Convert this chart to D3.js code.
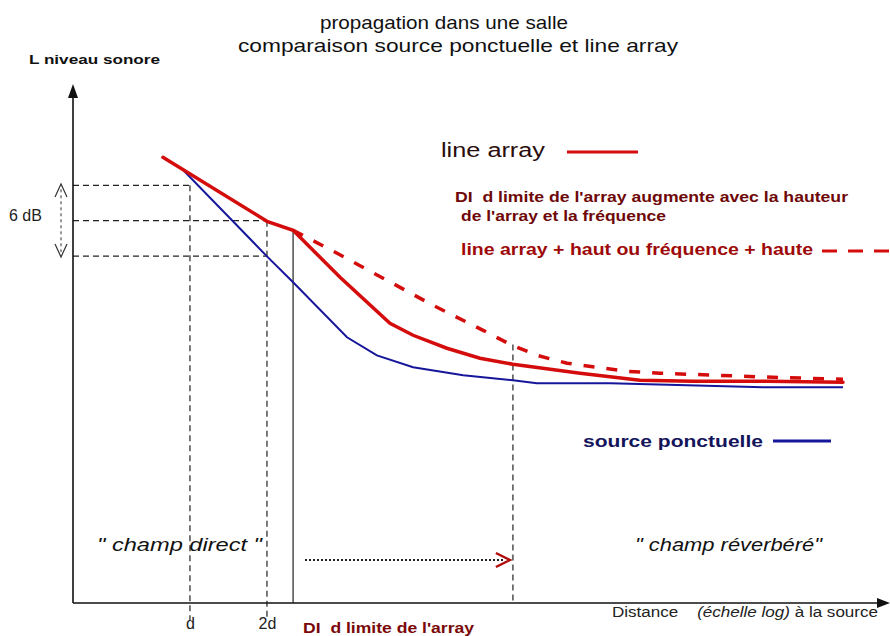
<!DOCTYPE html>
<html>
<head>
<meta charset="utf-8">
<script src="https://cdn.jsdelivr.net/npm/d3@7"></script>
<style>
  body { margin: 0; background: #fff; }
  svg { display: block; font-family: "Liberation Sans", Arial, sans-serif; }
  text { white-space: pre; }
</style>
</head>
<body>
<div id="container"></div>
<script>
// distances en multiples de d (echelle log), niveaux en dB (0 dB = niveau a d)
var pointDist = [0.784, 0.93, 2.0, 2.53, 4.11, 5.38, 7.45, 11.7, 18.3, 22.7, 43.9, 87.7, 174, 357];
var pointLevel = [2.37, 1.4, -6.02, -8.22, -12.88, -14.41, -15.42, -16.1, -16.53, -16.78, -16.78, -16.95, -17.12, -17.12];

var arrayDist = [0.784, 2.0, 2.53, 3.86, 6.05, 7.45, 10.1, 13.6, 18.3, 33.5, 57.4, 92.6, 180, 357];
var arrayLevel = [2.37, -3.05, -3.81, -7.8, -11.69, -12.71, -13.81, -14.66, -15.17, -15.93, -16.53, -16.61, -16.61, -16.69];

var highDist = [2.53, 3.76, 5.89, 8.91, 14.0, 17.8, 22.7, 29.8, 39.0, 51.1, 68.8, 115, 190, 357];
var highLevel = [-3.81, -5.76, -8.05, -10.17, -12.29, -13.47, -14.41, -15.08, -15.42, -15.76, -15.93, -16.1, -16.27, -16.44];

// reperes : d, 2d, limite de l'array, debut du champ reverbere
var tickDist = [1, 2];
var tickLabels = ["d", "2d"];
var refLevel = [0, -3, -6];
var refDist = [1, 2, 2];
var limitDist = 2.53, limitLevel = -3.81;
var reverbDist = 18.3, reverbLevel = -13.5;

var width = 890,
    height = 636;

var x = d3.scaleLog().domain([0.349, 521]).range([73, 885]);
var y = d3.scaleLinear().domain([-35.4, 8.5]).range([603, 85]);

var svg = d3.select("#container").append("svg")
    .attr("width", width)
    .attr("height", height);

var ink = "#111";
var red = "#d40c0c";
var blue = "#16169a";
var narrow = "'Liberation Sans Narrow', 'Liberation Sans', sans-serif";

// titre
svg.append("text").attr("x", 444).attr("y", 29).attr("text-anchor", "middle")
    .style("font-size", "19px").style("font-family", narrow).attr("fill", "#111")
    .attr("textLength", 248).attr("lengthAdjust", "spacingAndGlyphs")
    .text("propagation dans une salle");
svg.append("text").attr("x", 458).attr("y", 52).attr("text-anchor", "middle")
    .style("font-size", "19px").style("font-family", narrow).attr("fill", "#111")
    .attr("textLength", 440).attr("lengthAdjust", "spacingAndGlyphs")
    .text("comparaison source ponctuelle et line array");

svg.append("text").attr("x", 29).attr("y", 64)
    .style("font-size", "13px").style("font-weight", "bold")
    .style("font-family", narrow)
    .attr("textLength", 131).attr("lengthAdjust", "spacingAndGlyphs")
    .attr("fill", "#111").text("L niveau sonore");

// lignes de repere en pointilles
var refG = svg.append("g").attr("stroke", "#222").attr("stroke-width", 1.2)
    .attr("stroke-dasharray", "6,4").attr("fill", "none");
refLevel.forEach(function (L, i) {
    refG.append("line")
        .attr("x1", x.range()[0]).attr("x2", x(refDist[i]))
        .attr("y1", y(L)).attr("y2", y(L));
});
refG.append("line").attr("x1", x(1)).attr("x2", x(1)).attr("y1", y(0)).attr("y2", 620);
refG.append("line").attr("x1", x(2)).attr("x2", x(2)).attr("y1", y(-3)).attr("y2", 620);
refG.append("line").attr("x1", x(reverbDist)).attr("x2", x(reverbDist))
    .attr("y1", y(reverbLevel)).attr("y2", y.range()[0]);

svg.append("line").attr("x1", x(limitDist)).attr("x2", x(limitDist))
    .attr("y1", y(limitLevel)).attr("y2", y.range()[0])
    .attr("stroke", "#333").attr("stroke-width", 1.3);

// 6 dB
svg.append("line").attr("x1", 61).attr("x2", 61).attr("y1", y(0) + 4).attr("y2", y(-6) - 4)
    .attr("stroke", "#333").attr("stroke-dasharray", "3,3");
svg.append("polyline").attr("points", "55,197 61,184 67,197")
    .attr("fill", "none").attr("stroke", "#333").attr("stroke-width", 1.2);
svg.append("polyline").attr("points", "55,244 61,257 67,244")
    .attr("fill", "none").attr("stroke", "#333").attr("stroke-width", 1.2);
svg.append("text").attr("x", 9).attr("y", 221).style("font-size", "16px")
    .attr("fill", "#222").text("6 dB");

// courbes
var line = d3.line()
    .x(function (d) { return x(d[0]); })
    .y(function (d) { return y(d[1]); });

svg.append("path").datum(d3.zip(pointDist, pointLevel))
    .attr("d", line).attr("fill", "none")
    .attr("stroke", blue).attr("stroke-width", 2);

svg.append("path").datum(d3.zip(highDist, highLevel))
    .attr("d", line).attr("fill", "none")
    .attr("stroke", red).attr("stroke-width", 3.5)
    .attr("stroke-dasharray", "11,12");

svg.append("path").datum(d3.zip(arrayDist, arrayLevel))
    .attr("d", line).attr("fill", "none")
    .attr("stroke", red).attr("stroke-width", 3.5)
    .attr("stroke-linecap", "round");

// axes avec fleches
svg.append("line").attr("x1", 73).attr("x2", 73).attr("y1", 603).attr("y2", 96)
    .attr("stroke", ink).attr("stroke-width", 1.6);
svg.append("path").attr("d", "M73,84 L68,98 L78,98 Z").attr("fill", ink);
svg.append("line").attr("x1", 73).attr("x2", 878).attr("y1", 603).attr("y2", 603)
    .attr("stroke", ink).attr("stroke-width", 1.6);
svg.append("path").attr("d", "M890,603 L877,598 L877,608 Z").attr("fill", ink);

var xAxis = d3.axisBottom(x)
    .tickValues(tickDist)
    .tickFormat(function (d, i) { return tickLabels[i]; })
    .tickSize(0).tickPadding(15);
var gx = svg.append("g").attr("transform", "translate(0,603)").call(xAxis);
gx.select(".domain").remove();
gx.selectAll("text").style("font-size", "16px")
    .style("font-family", narrow)
    .attr("fill", "#222");

svg.append("text").attr("x", 612).attr("y", 617).style("font-size", "14px").attr("fill", "#222")
    .attr("textLength", 266).attr("lengthAdjust", "spacingAndGlyphs")
    .call(function (t) {
        t.append("tspan").text("Distance    ");
        t.append("tspan").style("font-style", "italic").text("(échelle log)");
        t.append("tspan").text(" à la source");
    });

svg.append("text").attr("x", x(limitDist) + 10).attr("y", 633)
    .style("font-size", "14px").style("font-weight", "bold").attr("fill", "#7a0808")
    .style("font-family", narrow)
    .attr("textLength", 171).attr("lengthAdjust", "spacingAndGlyphs")
    .text("DI  d limite de l'array");

// legendes
svg.append("text").attr("x", 441).attr("y", 157).style("font-size", "20px")
    .attr("fill", "#2a0c0c").attr("textLength", 104).attr("lengthAdjust", "spacingAndGlyphs")
    .text("line array");
svg.append("line").attr("x1", 567).attr("x2", 638).attr("y1", 152).attr("y2", 152)
    .attr("stroke", red).attr("stroke-width", 3);

svg.append("text").attr("x", 455).attr("y", 202).style("font-size", "15px").style("font-weight", "bold")
    .style("font-family", narrow)
    .attr("fill", "#6e0808").attr("textLength", 393).attr("lengthAdjust", "spacingAndGlyphs")
    .text("DI  d limite de l'array augmente avec la hauteur");
svg.append("text").attr("x", 461).attr("y", 221).style("font-size", "15px").style("font-weight", "bold")
    .style("font-family", narrow)
    .attr("fill", "#6e0808").attr("textLength", 205).attr("lengthAdjust", "spacingAndGlyphs")
    .text("de l'array et la fréquence");

svg.append("text").attr("x", 461).attr("y", 255).style("font-size", "16px").style("font-weight", "bold")
    .attr("fill", "#9e0a0a").attr("textLength", 352).attr("lengthAdjust", "spacingAndGlyphs")
    .text("line array + haut ou fréquence + haute");
svg.append("line").attr("x1", 822).attr("x2", 890).attr("y1", 251).attr("y2", 251)
    .attr("stroke", red).attr("stroke-width", 3).attr("stroke-dasharray", "15,11");

svg.append("text").attr("x", 583).attr("y", 447).style("font-size", "17px").style("font-weight", "bold")
    .attr("fill", "#14145a").attr("textLength", 180).attr("lengthAdjust", "spacingAndGlyphs")
    .text("source ponctuelle");
svg.append("line").attr("x1", 773).attr("x2", 831).attr("y1", 441).attr("y2", 441)
    .attr("stroke", blue).attr("stroke-width", 3);

// zones
svg.append("text").attr("x", 97).attr("y", 551).style("font-size", "18px").style("font-style", "italic")
    .attr("fill", "#111").attr("textLength", 165).attr("lengthAdjust", "spacingAndGlyphs")
    .text("\" champ direct \"");
svg.append("text").attr("x", 635).attr("y", 551).style("font-size", "18px").style("font-style", "italic")
    .attr("fill", "#111").attr("textLength", 187).attr("lengthAdjust", "spacingAndGlyphs")
    .text("\" champ réverbéré\"");

// fleche pointillee vers le champ reverbere
svg.append("line").attr("x1", 305).attr("x2", x(reverbDist) - 8).attr("y1", 560).attr("y2", 560)
    .attr("stroke", "#222").attr("stroke-width", 2).attr("stroke-dasharray", "2,2");
svg.append("polyline")
    .attr("points", [[x(reverbDist) - 17, 553], [x(reverbDist) - 3, 560], [x(reverbDist) - 17, 567]].join(" "))
    .attr("fill", "none").attr("stroke", "#b00c0c").attr("stroke-width", 2.5);
</script>
</body>
</html>
